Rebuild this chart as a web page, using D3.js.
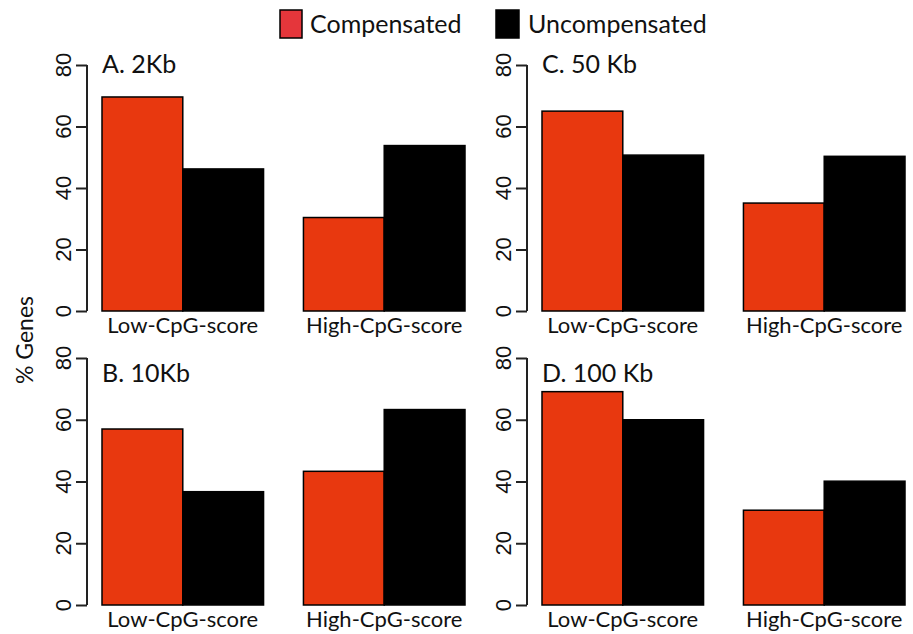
<!DOCTYPE html>
<html>
<head>
<meta charset="utf-8">
<script src="https://cdn.jsdelivr.net/npm/d3@7"></script>
<style>
  html, body { margin: 0; padding: 0; background: #fff; }
  svg { display: block; }
  .lbl { font-family: Lato, "Open Sans", sans-serif; fill: #111; }
  .tick-lbl { font-family: "Liberation Sans", Arial, sans-serif; fill: #111; }
</style>
</head>
<body>
<svg id="chart" width="913" height="634"></svg>
<script>
// ---- data ----
const categories = ["Low-CpG-score", "High-CpG-score"];
const seriesNames = ["Compensated", "Uncompensated"];
const panelTitles = ["A. 2Kb", "B. 10Kb", "C. 50 Kb", "D. 100 Kb"];
const compensated   = [[69.6, 30.4], [57.0, 43.3], [65.0, 35.1], [69.1, 30.7]];
const uncompensated = [[46.2, 53.8], [36.7, 63.3], [50.7, 50.3], [60.0, 40.1]];
const yTicks = [0, 20, 40, 60, 80];
const yLabel = "% Genes";

// ---- layout ----
const svg = d3.select("#chart");
const barColors = ["#E8380F", "#000000"];
const legendColors = ["#E5363B", "#000000"];
const cols = [{axisX: 87, x0: 102, x1: 465}, {axisX: 527, x0: 542, x1: 905}];
const rows = [{y0: 311, y80: 65, titleY: 73}, {y0: 605, y80: 358, titleY: 382}];
// panel order: A (r0,c0), B (r1,c0), C (r0,c1), D (r1,c1)
const panelPos = [[0, 0], [1, 0], [0, 1], [1, 1]];

panelPos.forEach(([r, c], i) => {
  const row = rows[r], col = cols[c];
  const y = d3.scaleLinear().domain([0, 80]).range([row.y0, row.y80]);
  const xg = d3.scaleBand().domain(categories).range([col.x0, col.x1]).paddingInner(40 / 202).paddingOuter(0);
  const xb = d3.scaleBand().domain(seriesNames).range([0, xg.bandwidth()]).padding(0);

  const g = svg.append("g");

  // y axis
  const axis = d3.axisLeft(y).tickValues(yTicks).tickSize(11).tickFormat("");
  const ag = g.append("g").attr("transform", `translate(${col.axisX},0)`).call(axis);
  ag.select(".domain").attr("d", `M0,${y(80)}V${y(0)}`).attr("stroke", "#222").attr("stroke-width", 2);
  ag.selectAll(".tick line").attr("stroke", "#222").attr("stroke-width", 2);

  g.selectAll(".tick-lbl").data(yTicks).join("text")
    .attr("class", "tick-lbl")
    .attr("transform", d => `translate(${col.axisX - 16},${y(d)}) rotate(-90)`)
    .attr("text-anchor", "middle")
    .attr("font-size", 22)
    .text(d => d);

  // bars
  const data = [];
  categories.forEach((cat, k) => {
    data.push({cat, s: seriesNames[0], v: compensated[i][k], ci: 0});
    data.push({cat, s: seriesNames[1], v: uncompensated[i][k], ci: 1});
  });
  g.selectAll("rect.bar").data(data).join("rect")
    .attr("class", "bar")
    .attr("x", d => xg(d.cat) + xb(d.s))
    .attr("width", xb.bandwidth())
    .attr("y", d => y(d.v))
    .attr("height", d => y(0) - y(d.v))
    .attr("fill", d => barColors[d.ci])
    .attr("stroke", "#000")
    .attr("stroke-width", 1.5);

  // category labels
  g.selectAll("text.cat").data(categories).join("text")
    .attr("class", "lbl cat")
    .attr("x", d => xg(d) + xg.bandwidth() / 2)
    .attr("y", row.y0 + 22)
    .attr("text-anchor", "middle")
    .attr("font-size", 22)
    .text(d => d);

  // panel title
  g.append("text")
    .attr("class", "lbl")
    .attr("x", col.x0)
    .attr("y", row.titleY)
    .attr("font-size", 25)
    .text(panelTitles[i]);
});

// y label
svg.append("text")
  .attr("class", "lbl")
  .attr("transform", "translate(33,340) rotate(-90)")
  .attr("text-anchor", "middle")
  .attr("font-size", 23)
  .text(yLabel);

// legend
const legendItems = [{x: 280, w: 22, tx: 310}, {x: 496, w: 23, tx: 528}];
seriesNames.forEach((name, k) => {
  const it = legendItems[k];
  svg.append("rect")
    .attr("x", it.x).attr("y", 10).attr("width", it.w).attr("height", 28)
    .attr("fill", legendColors[k]).attr("stroke", "#000").attr("stroke-width", 1.5);
  svg.append("text")
    .attr("class", "lbl")
    .attr("x", it.tx).attr("y", 33)
    .attr("font-size", 25)
    .text(name);
});
</script>
</body>
</html>
